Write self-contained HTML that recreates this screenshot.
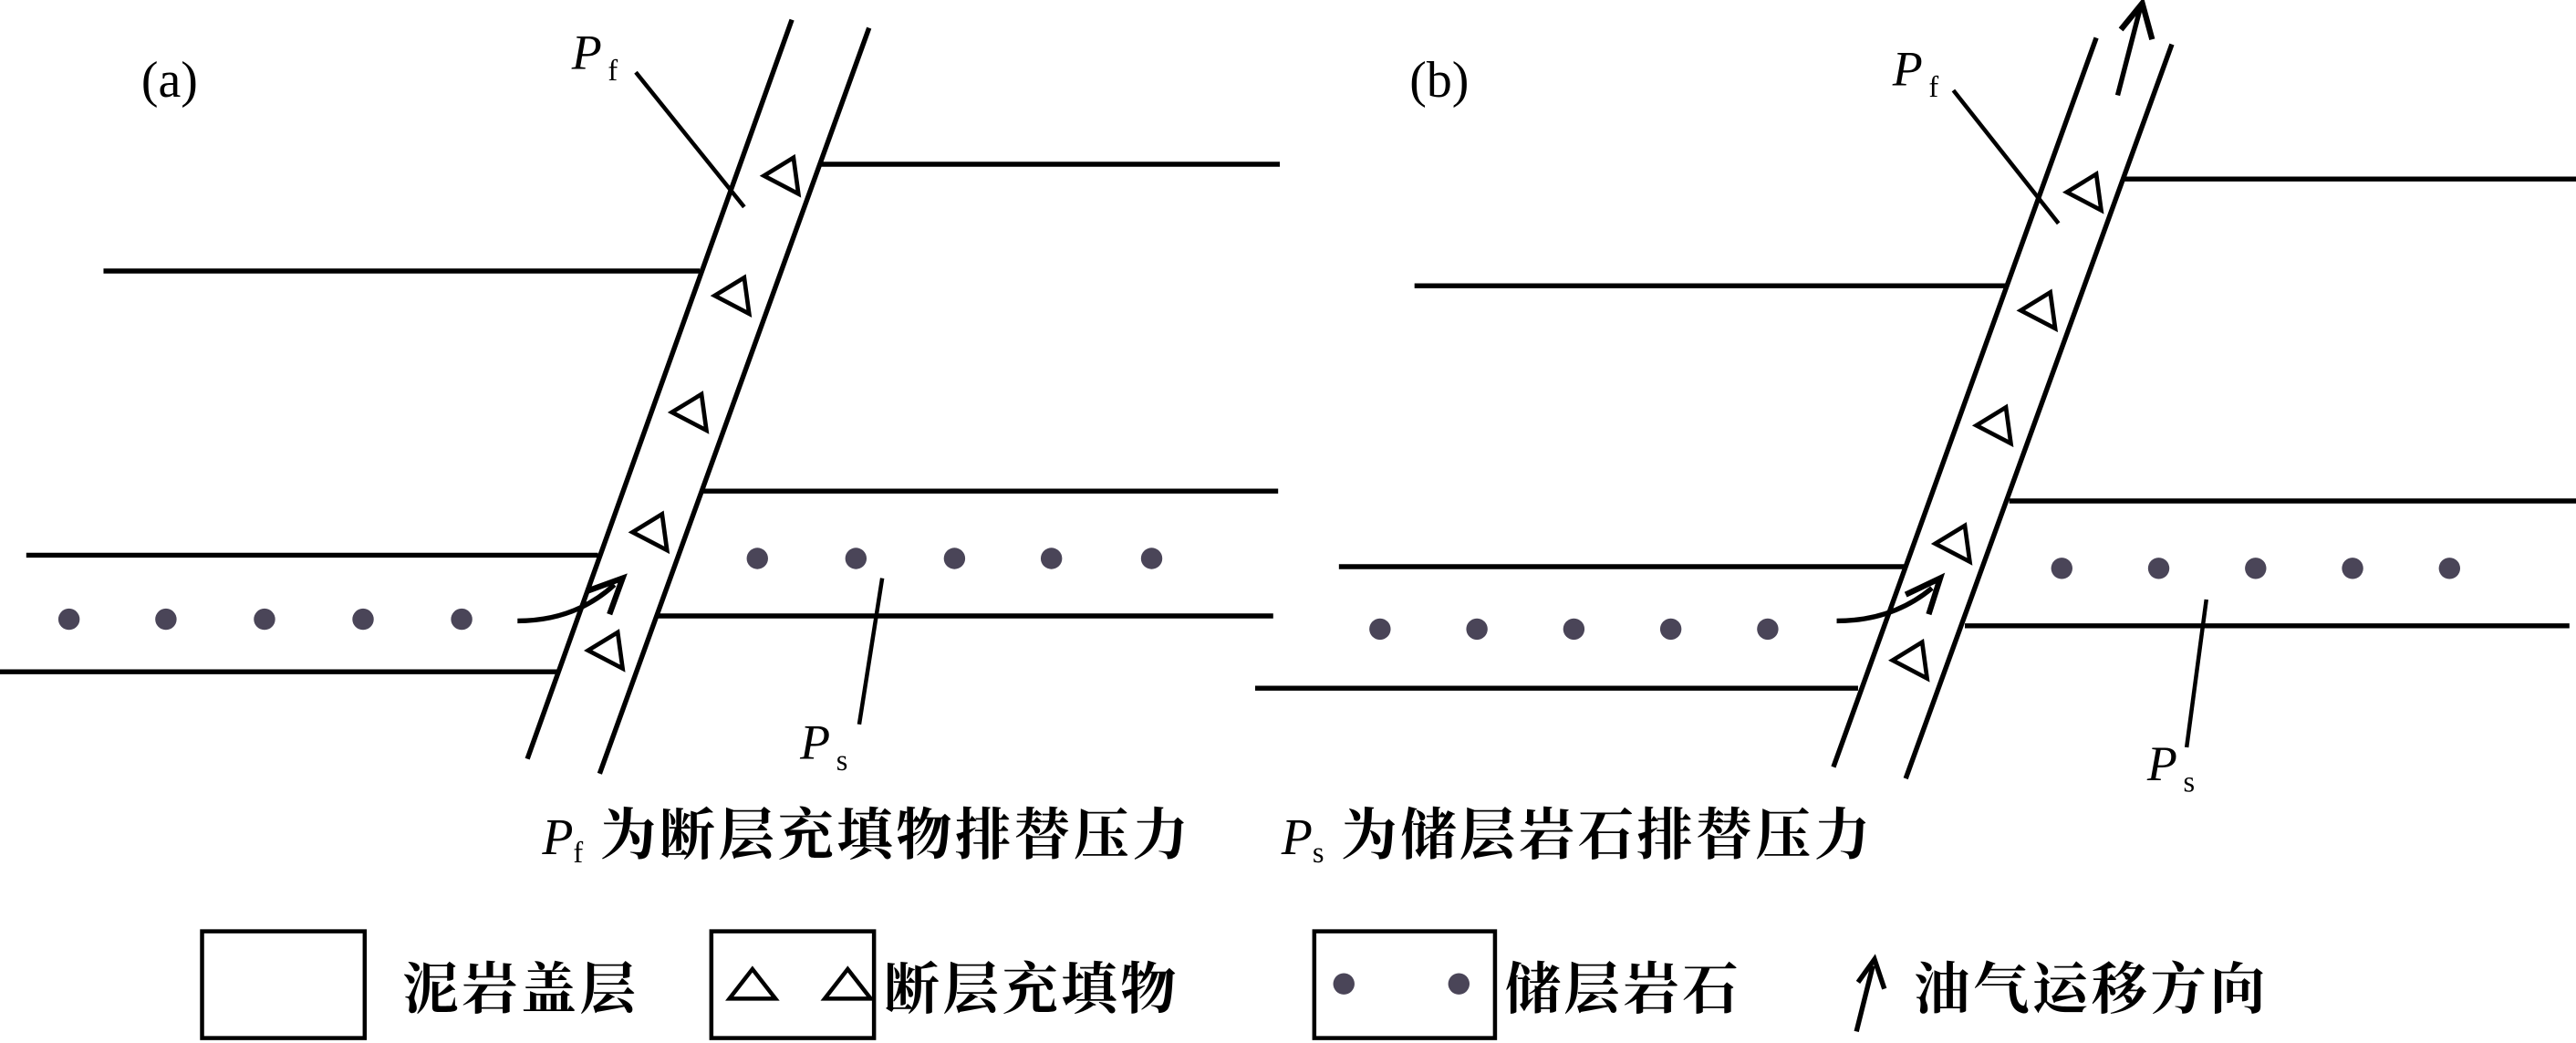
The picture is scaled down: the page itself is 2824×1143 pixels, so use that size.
<!DOCTYPE html>
<html><head><meta charset="utf-8"><style>
html,body{margin:0;padding:0;background:#fff}
svg{display:block}
text{font-family:"Liberation Serif","Noto Serif CJK SC",serif;fill:#000}
.cj{font-weight:bold;letter-spacing:2px}
</style></head><body>
<svg width="2824" height="1143" viewBox="0 0 1568 635" preserveAspectRatio="none" xmlns="http://www.w3.org/2000/svg">
<defs>
<g id="tri"><polygon points="-10,0 8,-11 11,11" fill="none" stroke="#000" stroke-width="2.6" stroke-linejoin="miter"/></g>
</defs>
<g stroke="#000" stroke-width="3" fill="none">
<line x1="482" y1="12" x2="321" y2="462"/>
<line x1="529" y1="17" x2="365" y2="471"/>
<line x1="500" y1="100" x2="779" y2="100"/>
<line x1="63" y1="165" x2="426" y2="165"/>
<line x1="428" y1="299" x2="778" y2="299"/>
<line x1="16" y1="338" x2="364" y2="338"/>
<line x1="400" y1="375" x2="775" y2="375"/>
<line x1="0" y1="409" x2="340" y2="409"/>
<line x1="387" y1="44" x2="453" y2="126" stroke-width="2.5"/>
<path d="M537,352 L523,441" stroke-width="2.5"/>
<path d="M315,378 Q350,378 374,356" stroke-width="3"/>
<path d="M357,360 L379,352 L371,374" stroke-width="3.5"/>
<line x1="1276" y1="23" x2="1116" y2="467"/>
<line x1="1322" y1="27" x2="1160" y2="474"/>
<line x1="1292" y1="109" x2="1568" y2="109"/>
<line x1="861" y1="174" x2="1221" y2="174"/>
<line x1="1223" y1="305" x2="1568" y2="305"/>
<line x1="815" y1="345" x2="1159" y2="345"/>
<line x1="1196" y1="381" x2="1564" y2="381"/>
<line x1="764" y1="419" x2="1131" y2="419"/>
<line x1="1189" y1="55" x2="1253" y2="136" stroke-width="2.5"/>
<path d="M1343,365 L1331,455" stroke-width="2.5"/>
<path d="M1118,378 Q1152,378 1176,358" stroke-width="3"/>
<path d="M1160,362 L1181,352 L1174,374" stroke-width="3.5"/>
<line x1="1289" y1="58" x2="1303" y2="4"/>
<path d="M1291,18 L1304,2 L1310,24" stroke-width="3.5"/>
<rect x="123" y="567" width="99" height="65" stroke-width="2.5"/>
<rect x="433" y="567" width="99" height="65" stroke-width="2.5"/>
<rect x="800" y="567" width="110" height="65" stroke-width="2.5"/>
<line x1="1130" y1="628" x2="1140" y2="588" stroke-width="3"/>
<path d="M1131,598 L1141,584 L1147,602" stroke-width="3"/>
</g>
<use href="#tri" x="475" y="107"/><use href="#tri" x="445" y="180"/><use href="#tri" x="419" y="251"/><use href="#tri" x="395" y="324"/><use href="#tri" x="368" y="396"/>
<use href="#tri" x="1268" y="117"/><use href="#tri" x="1240" y="189"/><use href="#tri" x="1213" y="259"/><use href="#tri" x="1188" y="331"/><use href="#tri" x="1162" y="402"/>
<g fill="none" stroke="#000" stroke-width="2.5">
<polygon points="444,608 458,590 472,608"/>
<polygon points="502,608 516,590 530,608"/>
</g>
<g fill="#4a4558">
<circle cx="42" cy="377" r="6.5"/><circle cx="101" cy="377" r="6.5"/><circle cx="161" cy="377" r="6.5"/><circle cx="221" cy="377" r="6.5"/><circle cx="281" cy="377" r="6.5"/>
<circle cx="461" cy="340" r="6.5"/><circle cx="521" cy="340" r="6.5"/><circle cx="581" cy="340" r="6.5"/><circle cx="640" cy="340" r="6.5"/><circle cx="701" cy="340" r="6.5"/>
<circle cx="840" cy="383" r="6.5"/><circle cx="899" cy="383" r="6.5"/><circle cx="958" cy="383" r="6.5"/><circle cx="1017" cy="383" r="6.5"/><circle cx="1076" cy="383" r="6.5"/>
<circle cx="1255" cy="346" r="6.5"/><circle cx="1314" cy="346" r="6.5"/><circle cx="1373" cy="346" r="6.5"/><circle cx="1432" cy="346" r="6.5"/><circle cx="1491" cy="346" r="6.5"/>
<circle cx="818" cy="599" r="6.5"/><circle cx="888" cy="599" r="6.5"/>
</g>
<text x="86" y="59" font-size="31">(a)</text>
<text x="858" y="59" font-size="31">(b)</text>
<text x="348" y="42" font-size="30" font-style="italic">P</text><text x="370" y="49" font-size="18">f</text>
<text x="1152" y="52" font-size="30" font-style="italic">P</text><text x="1174" y="59" font-size="18">f</text>
<text x="487" y="462" font-size="30" font-style="italic">P</text><text x="509" y="469" font-size="18">s</text>
<text x="1307" y="475" font-size="30" font-style="italic">P</text><text x="1329" y="482" font-size="18">s</text>
<text x="330" y="520" font-size="31"><tspan font-style="italic">P</tspan><tspan font-size="18" dy="5">f</tspan><tspan dy="-5" font-size="34" class="cj"> 为断层充填物排替压力</tspan></text>
<text x="780" y="520" font-size="31"><tspan font-style="italic">P</tspan><tspan font-size="18" dy="5">s</tspan><tspan dy="-5" font-size="34" class="cj"> 为储层岩石排替压力</tspan></text>
<text x="245" y="614" font-size="34" class="cj">泥岩盖层</text>
<text x="538" y="614" font-size="34" class="cj">断层充填物</text>
<text x="916" y="614" font-size="34" class="cj">储层岩石</text>
<text x="1165" y="614" font-size="34" class="cj">油气运移方向</text>
</svg>
</body></html>
